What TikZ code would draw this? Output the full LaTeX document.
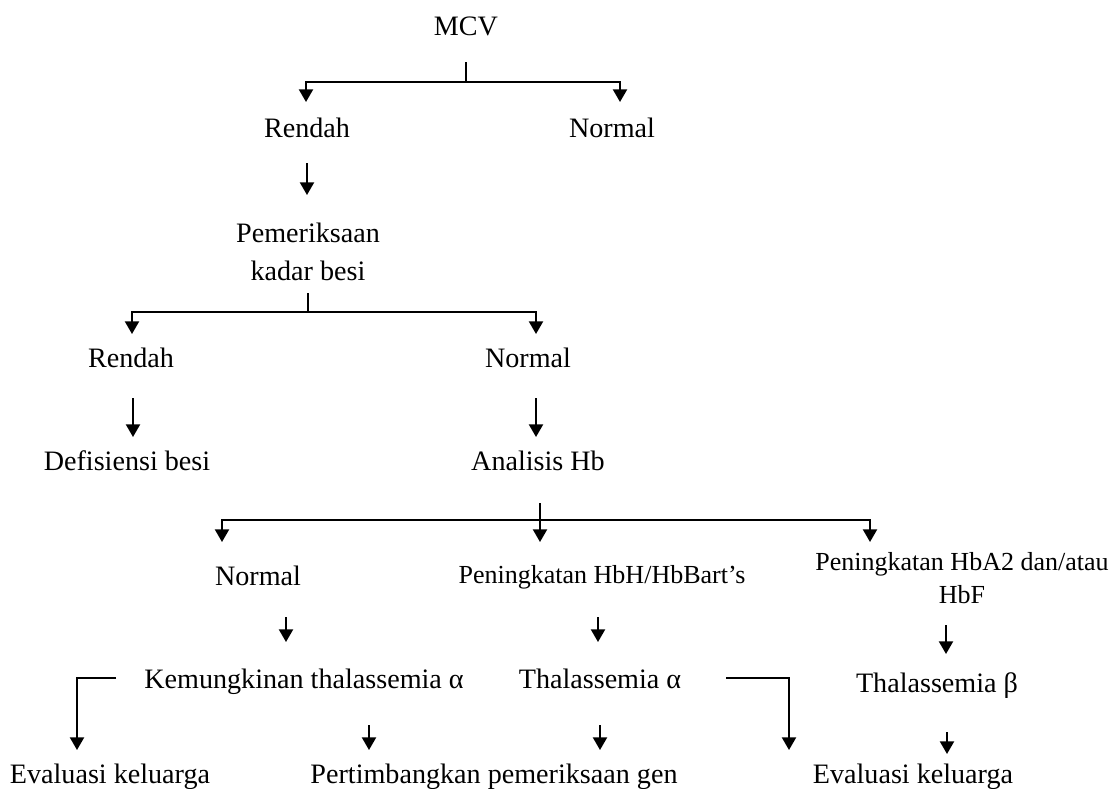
\documentclass[tikz,border=0pt]{standalone}
\usepackage{fontspec}
\setmainfont{Liberation Serif}
\usetikzlibrary{arrows.meta}

\tikzset{
  txt/.style={font=\fontsize{20}{24}\selectfont, inner sep=0pt, anchor=base},
  txtsm/.style={font=\fontsize{18.5}{24}\selectfont, inner sep=0pt, align=center},
  ln/.style={line width=1.4pt},
  arr/.style={ln, -{Triangle[width=10pt,length=9pt]}},
}

\begin{document}
\begin{tikzpicture}[x=0.025cm,y=-0.025cm]
    \useasboundingbox (0,0) rectangle (1118,789);
    % first split
    \node[txt] (mcv) at (466,35) {MCV};
    \node[txt] (rendahA) at (307,137) {Rendah};
    \node[txt] (normalA) at (612,137) {Normal};
    \coordinate (mcvS) at (466,62);
    \coordinate (forkA) at (466,82);
    \coordinate (tipRA) at (306,102);
    \coordinate (tipNA) at (620,102);
    \draw[ln] (mcvS) -- (forkA);
    \draw[arr] (forkA) -| (tipRA);
    \draw[arr] (forkA) -| (tipNA);
    % iron test
    \node[txtsm, font=\fontsize{20}{27}\selectfont] (besi) at (308,252) {Pemeriksaan\\kadar besi};
    \coordinate (rendahAS) at (307,163);
    \coordinate (besiN) at (307,195);
    \draw[arr] (rendahAS) -- (besiN);
    \node[txt] (rendahB) at (131,367) {Rendah};
    \node[txt] (normalB) at (528,367) {Normal};
    \coordinate (besiS) at (308,293);
    \coordinate (forkB) at (308,312);
    \coordinate (tipRB) at (132,334);
    \coordinate (tipNB) at (536,334);
    \draw[ln] (besiS) -- (forkB);
    \draw[arr] (forkB) -| (tipRB);
    \draw[arr] (forkB) -| (tipNB);
    \node[txt] (defisiensi) at (127,470) {Defisiensi besi};
    \node[txt] (analisis) at (538,470) {Analisis Hb};
    \coordinate (rendahBS) at (133,398);
    \coordinate (defisiensiN) at (133,437);
    \coordinate (normalBS) at (536,398);
    \coordinate (analisisN) at (536,437);
    \draw[arr] (rendahBS) -- (defisiensiN);
    \draw[arr] (normalBS) -- (analisisN);
    % Hb analysis
    \node[txt] (normalC) at (258,585) {Normal};
    \node[txtsm, anchor=base] (hbh) at (602,583) {Peningkatan HbH/HbBart’s};
    \node[txtsm] (hba) at (962,578) {Peningkatan HbA2 dan/atau\\HbF};
    \coordinate (analisisS) at (540,503);
    \coordinate (forkC) at (540,520);
    \coordinate (tipNC) at (222,542);
    \coordinate (tipHC) at (540,542);
    \coordinate (tipAC) at (870,542);
    \draw[arr] (analisisS) -- (tipHC);
    \draw[arr] (forkC) -| (tipNC);
    \draw[arr] (forkC) -| (tipAC);
    % diagnoses
    \node[txt] (kemungkinan) at (304,688) {Kemungkinan thalassemia α};
    \node[txt] (thalA) at (600,688) {Thalassemia α};
    \node[txt] (thalB) at (937,692) {Thalassemia β};
    \coordinate (normalCS) at (286,617);
    \coordinate (kemungkinanN) at (286,642);
    \coordinate (hbhS) at (598,617);
    \coordinate (thalAN) at (598,642);
    \coordinate (hbaS) at (946,625);
    \coordinate (thalBN) at (946,654);
    \draw[arr] (normalCS) -- (kemungkinanN);
    \draw[arr] (hbhS) -- (thalAN);
    \draw[arr] (hbaS) -- (thalBN);
    % follow-up
    \node[txt] (evalA) at (110,783) {Evaluasi keluarga};
    \node[txt] (gen) at (494,783) {Pertimbangkan pemeriksaan gen};
    \node[txt] (evalB) at (913,783) {Evaluasi keluarga};
    \coordinate (kemungkinanW) at (116,678);
    \coordinate (evalAN) at (77,750);
    \coordinate (kemungkinanS) at (369,725);
    \coordinate (genNA) at (369,750);
    \coordinate (thalAS) at (600,725);
    \coordinate (genNB) at (600,750);
    \coordinate (thalAE) at (726,678);
    \coordinate (evalBN) at (789,750);
    \coordinate (thalBS) at (947,732);
    \coordinate (evalBNB) at (947,754);
    \draw[arr] (kemungkinanW) -| (evalAN);
    \draw[arr] (kemungkinanS) -- (genNA);
    \draw[arr] (thalAS) -- (genNB);
    \draw[arr] (thalAE) -| (evalBN);
    \draw[arr] (thalBS) -- (evalBNB);
\end{tikzpicture}
\end{document}
